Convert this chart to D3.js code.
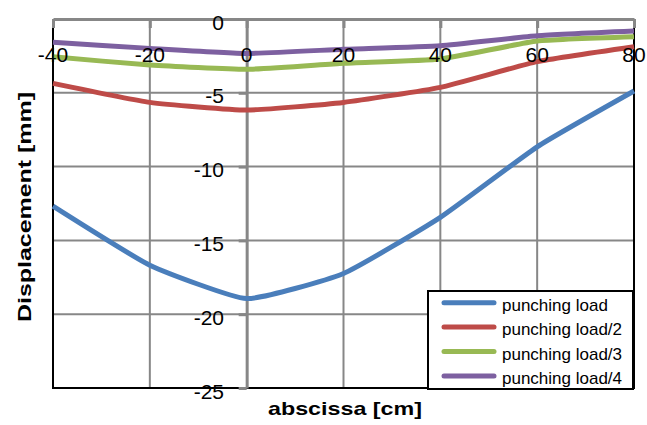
<!DOCTYPE html>
<html>
<head>
<meta charset="utf-8">
<script src="https://cdn.jsdelivr.net/npm/d3@7"></script>
<style>
  html, body { margin: 0; padding: 0; background: #fff; }
  svg { display: block; }
  text { font-family: "Liberation Sans", Arial, sans-serif; }
</style>
</head>
<body>
<svg id="chart" width="647" height="425"></svg>
<script>
// ---- data ----
const abscissa = [-40, -20, 0, 20, 40, 60, 80];
const seriesNames = ["punching load", "punching load/2", "punching load/3", "punching load/4"];
const punchingLoad   = [-12.68, -16.68, -18.94, -17.24, -13.44, -8.66, -4.88];
const punchingLoad2  = [-4.36, -5.65, -6.17, -5.65, -4.63, -2.89, -1.88];
const punchingLoad3  = [-2.56, -3.12, -3.41, -3.00, -2.71, -1.49, -1.20];
const punchingLoad4  = [-1.58, -1.99, -2.33, -2.05, -1.81, -1.13, -0.81];
const xTicks = [-40, -20, 0, 20, 40, 60, 80];
const yTicks = [0, -5, -10, -15, -20, -25];
const xTitle = "abscissa [cm]";
const yTitle = "Displacement [mm]";

const colors = ["#4A7EBB", "#BE4B48", "#98B954", "#7D60A0"];
const seriesValues = [punchingLoad, punchingLoad2, punchingLoad3, punchingLoad4];

const svg = d3.select("#chart");
const L = 53, R = 634, T = 19, B = 388;
const x = d3.scaleLinear().domain([-40, 80]).range([L, R]);
const y = d3.scaleLinear().domain([-25, 0]).range([B, T]);
const grid = "#878787";

// gridlines
svg.append("g").selectAll("line").data(xTicks.filter(d => d !== -40 && d !== 0 && d !== 80))
  .join("line").attr("x1", d => x(d)).attr("x2", d => x(d)).attr("y1", T).attr("y2", B)
  .attr("stroke", grid).attr("stroke-width", 2);
svg.append("g").selectAll("line").data(yTicks.filter(d => d !== 0 && d !== -25))
  .join("line").attr("x1", L).attr("x2", R).attr("y1", d => y(d)).attr("y2", d => y(d))
  .attr("stroke", grid).attr("stroke-width", 2);

// plot border (left, bottom, right)
svg.append("path")
  .attr("d", `M${L},${T}V${B}H${R}V${T}`)
  .attr("fill", "none").attr("stroke", "#000").attr("stroke-width", 2);

// x axis at y=0 (top), ticks pointing down
const xAxisG = svg.append("g").attr("transform", `translate(0,${y(0)})`)
  .call(d3.axisBottom(x).tickValues(xTicks).tickSize(9).tickSizeOuter(0).tickFormat(""));
xAxisG.select(".domain").attr("stroke", grid).attr("stroke-width", 3);
xAxisG.selectAll(".tick line").attr("stroke", grid).attr("stroke-width", 3);

// y axis at x=0, ticks pointing left
const yAxisG = svg.append("g").attr("transform", `translate(${x(0)},0)`)
  .call(d3.axisLeft(y).tickValues(yTicks).tickSize(8).tickSizeOuter(0).tickFormat(""));
yAxisG.select(".domain").attr("stroke", grid).attr("stroke-width", 3);
yAxisG.selectAll(".tick line").attr("stroke", grid).attr("stroke-width", 3);

// series lines
const line = d3.line().x((d, i) => x(abscissa[i])).y(d => y(d)).curve(d3.curveCardinal.tension(0.55));
svg.append("g").selectAll("path").data(seriesValues).join("path")
  .attr("d", d => line(d)).attr("fill", "none")
  .attr("stroke", (d, i) => colors[i]).attr("stroke-width", 5)
  .attr("stroke-linejoin", "round").attr("stroke-linecap", "butt");

// tick labels
svg.append("g").selectAll("text").data(xTicks).join("text")
  .attr("x", d => x(d)).attr("y", 62).attr("text-anchor", "middle")
  .attr("font-size", 21).attr("fill", "#000").text(d => d);
svg.append("g").selectAll("text").data(yTicks).join("text")
  .attr("x", 224).attr("y", d => y(d) + 10.5).attr("text-anchor", "end")
  .attr("font-size", 21).attr("fill", "#000").text(d => d);

// axis titles
svg.append("text").attr("x", 345).attr("y", 415).attr("text-anchor", "middle")
  .attr("font-size", 19).attr("font-weight", "bold")
  .attr("textLength", 154).attr("lengthAdjust", "spacingAndGlyphs").text(xTitle);
svg.append("text").attr("transform", `translate(31,207) rotate(-90)`).attr("text-anchor", "middle")
  .attr("font-size", 19).attr("font-weight", "bold")
  .attr("textLength", 230).attr("lengthAdjust", "spacingAndGlyphs").text(yTitle);

// legend
const lg = svg.append("g");
lg.append("rect").attr("x", 428).attr("y", 291).attr("width", 205).attr("height", 98)
  .attr("fill", "#fff").attr("stroke", "#000").attr("stroke-width", 2);
const items = lg.selectAll("g.item").data(seriesNames).join("g").attr("class", "item")
  .attr("transform", (d, i) => `translate(0,${302.7 + i * 24.4})`);
items.append("line").attr("x1", 444).attr("x2", 494).attr("y1", 0).attr("y2", 0)
  .attr("stroke", (d, i) => colors[i]).attr("stroke-width", 5).attr("stroke-linecap", "round");
items.append("text").attr("x", 502).attr("y", 8).attr("font-size", 17).attr("fill", "#000")
  .text(d => d);
</script>
</body>
</html>
